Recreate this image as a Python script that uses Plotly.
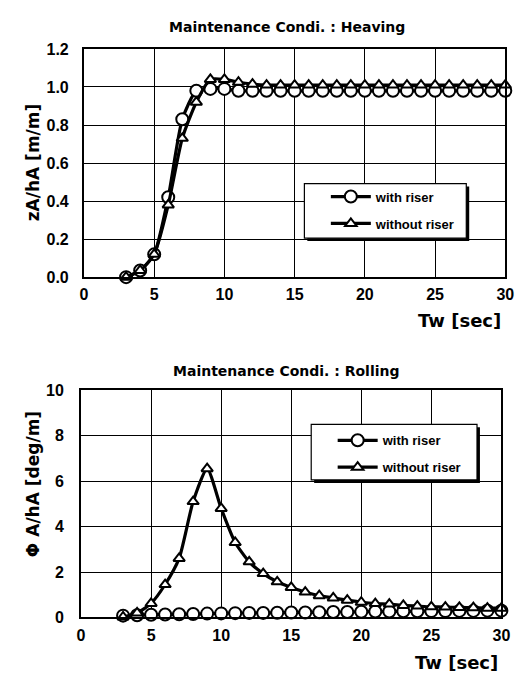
import plotly.graph_objects as go

W, H = 526, 684

tw = [3, 4, 5, 6, 7, 8, 9, 10, 11, 12, 13, 14, 15, 16, 17, 18, 19, 20,
      21, 22, 23, 24, 25, 26, 27, 28, 29, 30]

heave_with = [0.00, 0.035, 0.12, 0.42, 0.83, 0.98, 0.99, 0.99, 0.98, 0.98,
              0.98, 0.98, 0.98, 0.98, 0.98, 0.98, 0.98, 0.98, 0.98, 0.98,
              0.98, 0.98, 0.98, 0.98, 0.98, 0.98, 0.98, 0.98]
heave_without = [0.00, 0.035, 0.12, 0.38, 0.73, 0.92, 1.04, 1.04, 1.025, 1.015,
                 1.01, 1.01, 1.01, 1.01, 1.01, 1.01, 1.01, 1.01, 1.01, 1.01,
                 1.01, 1.01, 1.01, 1.01, 1.01, 1.01, 1.01, 1.01]

roll_with = [0.08, 0.10, 0.12, 0.13, 0.14, 0.15, 0.17, 0.18, 0.19, 0.20,
             0.20, 0.21, 0.22, 0.22, 0.23, 0.24, 0.24, 0.25, 0.26, 0.26,
             0.27, 0.27, 0.28, 0.28, 0.29, 0.29, 0.30, 0.30]
roll_without = [0.02, 0.20, 0.62, 1.45, 2.6, 5.1, 6.55, 4.8, 3.3, 2.45,
                1.93, 1.57, 1.32, 1.12, 0.96, 0.86, 0.76, 0.67, 0.61, 0.59,
                0.53, 0.50, 0.47, 0.46, 0.44, 0.43, 0.41, 0.41]

x_ticks = [0, 5, 10, 15, 20, 25, 30]
heave_ticks = [0.0, 0.2, 0.4, 0.6, 0.8, 1.0, 1.2]
heave_labels = ["0.0", "0.2", "0.4", "0.6", "0.8", "1.0", "1.2"]
roll_ticks = [0, 2, 4, 6, 8, 10]

titles = ["Maintenance Condi. : Heaving", "Maintenance Condi. : Rolling"]
series_names = ["with riser", "without riser"]
x_title = "Tw [sec]"
y_titles = ["zA/hA [m/m]", "Φ A/hA [deg/m]"]

FONT = "Liberation Sans"
WIDE = "DejaVu Sans"


def px(xp):
    return xp / W


def py(yp):
    return 1 - yp / H


fig = go.Figure()


def add_series(xa, ya, y_with, y_without, legend):
    common = dict(mode="lines+markers", cliponaxis=False, xaxis=xa, yaxis=ya,
                  legend=legend,
                  line=dict(color="black", width=3.2, shape="spline", smoothing=0.6))
    fig.add_trace(go.Scatter(x=tw, y=y_with, name=series_names[0], legendgroup=legend + "a",
                             marker=dict(symbol="circle", size=12, color="white",
                                         line=dict(color="black", width=2)), **common))
    fig.add_trace(go.Scatter(x=tw, y=y_without, name=series_names[1], legendgroup=legend + "b",
                             marker=dict(symbol="triangle-up", size=10, color="white",
                                         line=dict(color="black", width=2)), **common))


add_series("x", "y", heave_with, heave_without, "legend")
add_series("x2", "y2", roll_with, roll_without, "legend2")

axis_common = dict(showgrid=True, gridcolor="black", gridwidth=1,
                   showline=True, linecolor="black", linewidth=2, mirror=True,
                   ticks="", zeroline=False, fixedrange=True,
                   tickfont=dict(family=FONT, size=16, color="black", weight="bold"))

legend_common = dict(xanchor="left", yanchor="top", bgcolor="rgba(0,0,0,0)",
                     borderwidth=0, itemwidth=40, tracegroupgap=7,
                     font=dict(family=FONT, size=13, color="black", weight="bold"))

fig.update_layout(
    width=W, height=H, margin=dict(l=0, r=0, t=0, b=0),
    paper_bgcolor="white", plot_bgcolor="white", showlegend=True,
    xaxis=dict(domain=[px(82), px(514)], range=[0, 30], tickvals=x_ticks,
               anchor="y", ticklabelstandoff=2, **axis_common),
    yaxis=dict(domain=[py(276), py(42)], range=[0, 1.2], tickvals=heave_ticks,
               ticktext=heave_labels, anchor="x", ticklabelstandoff=10, **axis_common),
    xaxis2=dict(domain=[px(79), px(510)], range=[0, 30], tickvals=x_ticks,
                anchor="y2", ticklabelstandoff=2, **axis_common),
    yaxis2=dict(domain=[py(625), py(392)], range=[0, 10], tickvals=roll_ticks,
                anchor="x2", ticklabelstandoff=12, **axis_common),
    legend=dict(x=px(330), y=py(178), **legend_common),
    legend2=dict(x=px(337), y=py(428), **legend_common),
)

annos = [
    dict(text=titles[0], x=px(290), y=py(19), size=14, family=WIDE),
    dict(text=titles[1], x=px(290), y=py(372), size=14, family=WIDE),
    dict(text=x_title, x=px(467), y=py(320), size=18, family=WIDE),
    dict(text=x_title, x=px(464), y=py(671), size=18, family=WIDE),
    dict(text=y_titles[0], x=px(30), y=py(158), size=17, family=WIDE, textangle=-90),
    dict(text=y_titles[1], x=px(30), y=py(488), size=17, family=WIDE, textangle=-90),
]
for a in annos:
    size = a.pop("size")
    fam = a.pop("family")
    fig.add_annotation(xref="paper", yref="paper", showarrow=False,
                       xanchor="center", yanchor="middle",
                       font=dict(family=fam, size=size, color="black", weight="bold"), **a)

# legend boxes with drop shadows
for (x0, y0, x1, y1) in [(308, 180, 474, 236), (315, 427, 485, 484)]:
    fig.add_shape(type="rect", xref="paper", yref="paper",
                  x0=px(x0 + 3), x1=px(x1 + 3), y0=py(y1 + 3), y1=py(y0 + 3),
                  fillcolor="black", line=dict(width=0), layer="above")
    fig.add_shape(type="rect", xref="paper", yref="paper",
                  x0=px(x0), x1=px(x1), y0=py(y1), y1=py(y0),
                  fillcolor="white", line=dict(color="black", width=1.2), layer="above")

fig.write_html("out.html")
